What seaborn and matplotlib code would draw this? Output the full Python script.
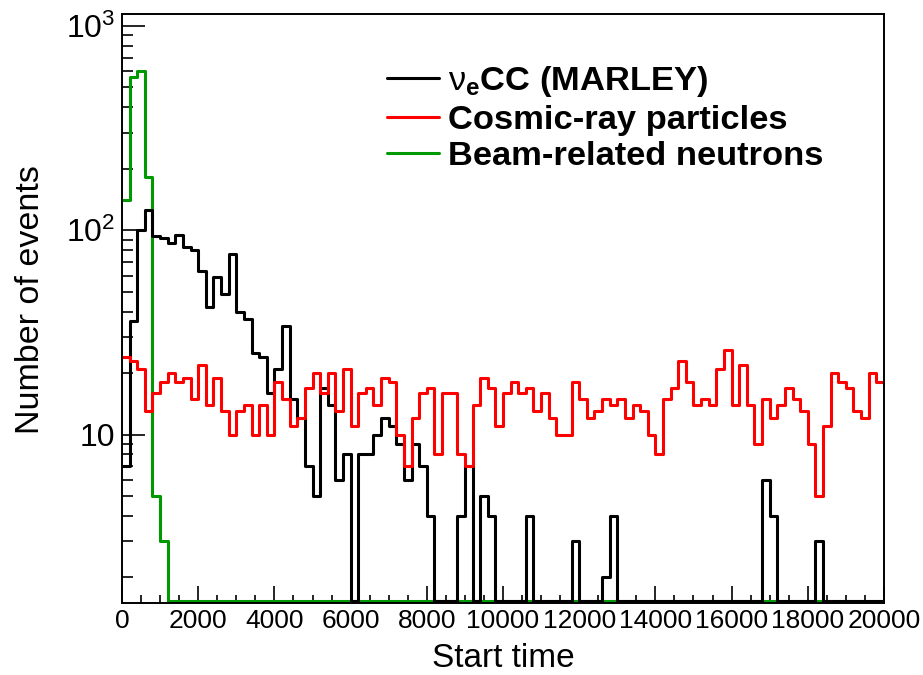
import numpy as np
import pandas as pd
import matplotlib
matplotlib.use("Agg")
import matplotlib.pyplot as plt
import seaborn as sns
from matplotlib.lines import Line2D
from matplotlib.ticker import MultipleLocator, AutoMinorLocator, FixedLocator, FuncFormatter

# 100 bins of width 200 from 0 to 20000
bin_width = 200
t_max = 20000

nue_cc = [7, 36, 100, 126, 94, 92, 87, 95, 83, 80,
          63, 42, 59, 49, 77, 40, 37, 25, 24, 16,
          21, 34, 15, 12, 7, 5, 17, 14, 6, 8,
          0, 8, 8, 10, 12, 11, 9, 6, 9, 7,
          4, 0, 0, 0, 4, 7, 0, 5, 4, 0,
          0, 0, 0, 4, 0, 0, 0, 0, 0, 3,
          0, 0, 0, 2, 4, 0, 0, 0, 0, 0,
          0, 0, 0, 0, 0, 0, 0, 0, 0, 0,
          0, 0, 0, 0, 6, 4, 0, 0, 0, 0,
          0, 3, 0, 0, 0, 0, 0, 0, 0, 0]

cosmics = [24, 23, 21, 13, 16, 18, 20, 18, 19, 15,
           22, 14, 19, 13, 10, 13, 14, 10, 14, 10,
           18, 15, 11, 12, 17, 20, 16, 20, 13, 21,
           11, 16, 17, 14, 19, 18, 10, 7, 12, 16,
           17, 8, 16, 16, 8, 7, 14, 19, 17, 11,
           16, 18, 16, 17, 13, 16, 12, 10, 10, 18,
           15, 12, 13, 15, 14, 15, 12, 14, 13, 10,
           8, 15, 17, 23, 18, 14, 15, 14, 21, 26,
           14, 22, 14, 9, 15, 12, 14, 17, 15, 13,
           9, 5, 11, 20, 18, 17, 13, 12, 20, 18]

beam_neutrons = [140, 560, 600, 183, 5, 3] + [0] * 94

labels = [r"$\mathrm{\nu}_{\mathbf{e}}$CC (MARLEY)",
          "Cosmic-ray particles",
          "Beam-related neutrons"]
colors = ["black", "#ff0000", "#009900"]

y_min, y_max = 1.5, 1145

sns.set_style("ticks")
plt.rcParams['font.family'] = ['Liberation Sans', 'DejaVu Sans']
plt.rcParams['mathtext.fontset'] = 'custom'
plt.rcParams['mathtext.rm'] = 'Liberation Sans'
plt.rcParams['mathtext.it'] = 'Liberation Sans:italic'
plt.rcParams['mathtext.bf'] = 'Liberation Sans:bold'
plt.rcParams['text.color'] = 'black'
plt.rcParams['axes.labelcolor'] = 'black'
plt.rcParams['xtick.color'] = 'black'
plt.rcParams['ytick.color'] = 'black'

fig = plt.figure(figsize=(9.23, 6.75), dpi=100)
ax = fig.add_axes([0.1322, 0.1067, 0.8255, 0.8726])

centers = np.arange(bin_width / 2, t_max, bin_width)
series = [(beam_neutrons, colors[2]),
          (nue_cc, colors[0]),
          (cosmics, colors[1])]
for counts, col in series:
    # empty bins are drawn along the lower frame edge, like ROOT does
    shown = np.where(np.array(counts) > 0, counts, y_min * 1.018).astype(float)
    df = pd.DataFrame({"t": centers, "n": shown})
    sns.histplot(data=df, x="t", weights="n", binwidth=bin_width,
                 binrange=(0, t_max), element="step", fill=False,
                 color=col, linewidth=2.2, ax=ax)

ax.set_yscale("log")
ax.set_xlim(0, t_max)
ax.set_ylim(y_min, y_max)

ax.xaxis.set_major_locator(MultipleLocator(2000))
ax.xaxis.set_minor_locator(AutoMinorLocator(4))
ax.yaxis.set_major_locator(FixedLocator([10, 100, 1000]))


def ylab(v, pos):
    if v == 10:
        return "10"
    return r"$\mathregular{10^{%d}}$" % int(round(np.log10(v)))


ax.yaxis.set_major_formatter(FuncFormatter(ylab))

ax.tick_params(axis="both", which="both", direction="in",
               top=False, right=False, color="black", labelcolor="black")
ax.tick_params(axis="x", which="major", length=12, width=1.2, labelsize=19, pad=4)
ax.tick_params(axis="x", which="minor", length=6, width=1.2)
ax.tick_params(axis="y", which="major", length=16.5, width=1.2, labelsize=23, pad=5)
ax.tick_params(axis="y", which="minor", length=8, width=1.2)

for s in ax.spines.values():
    s.set_linewidth(1.4)
    s.set_color("black")
    s.set_zorder(5)

ax.set_xlabel("Start time", fontsize=24, color="black")
ax.set_ylabel("Number of events", fontsize=24.5, color="black")
ax.xaxis.set_label_coords(0.5, -0.068)
ax.yaxis.set_label_coords(-0.100, 0.515)

handles = [Line2D([], [], color=c, linewidth=2.2) for c in colors]
leg = ax.legend(handles, labels, loc="upper left",
                bbox_to_anchor=(387 / 923, 1 - 64 / 675), bbox_transform=fig.transFigure,
                frameon=False, borderpad=0, borderaxespad=0,
                handlelength=1.5, handletextpad=0.28, labelspacing=0.16,
                prop={"size": 24.8, "weight": "bold"})
for t in leg.get_texts():
    t.set_color("black")

fig.savefig("out.png", dpi=100)
